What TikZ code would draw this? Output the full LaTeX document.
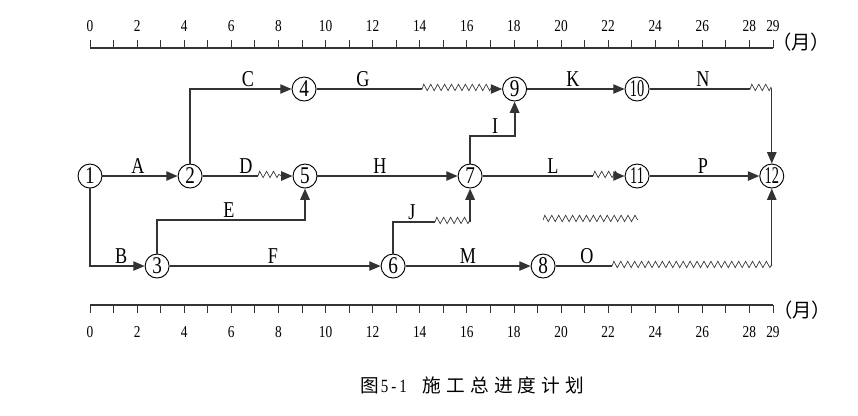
\documentclass[tikz,border=0pt]{standalone}
\usepackage{fontspec}
\usepackage{tikz}
\usetikzlibrary{arrows.meta,positioning,calc,decorations.pathmorphing}
\newfontfamily\latinc[FakeStretch=0.8]{Liberation Serif}
\newfontfamily\latincc[FakeStretch=0.6]{Liberation Serif}
\newfontfamily\cjk{Noto Sans CJK SC}
\newfontfamily\cjksp[LetterSpace=27]{Noto Sans CJK SC}
\definecolor{lineblack}{HTML}{333333}

\begin{document}
\begin{tikzpicture}[x=17.66pt,y=-0.75pt,
    ev/.style={draw,circle,line width=0.7pt,minimum size=18pt,inner sep=0pt,font=\latinc\fontsize{18}{18}\selectfont},
    evw/.style={ev,font=\latincc\fontsize{18}{18}\selectfont},
    act/.style={draw=lineblack,line width=1pt},
    bold/.style={act,line width=1.5pt},
    arr/.style={-{Triangle[length=8.5pt,width=7pt]}},
    wav/.style={draw=lineblack,line width=0.5pt,decorate,decoration={zigzag,segment length=5.2pt,amplitude=2.4pt,raise=1.2pt}},
    lbl/.style={anchor=south,inner sep=0pt,font=\latinc\fontsize{17}{17}\selectfont},
    num/.style={inner sep=0pt,font=\latinc\fontsize{12.5}{13}\selectfont},
    unit/.style={font=\cjk\fontsize{14.5}{15}\selectfont},
    tick/.style={draw=lineblack,line width=0.6pt}]
    \useasboundingbox (-3.8217,0) rectangle (32.6115,415);
    % time scales
    \draw[act] (0,48) -- (29,48);
    \draw[act,line width=1.3pt] (0,305) -- (29,305);
    \foreach \m in {0,...,29} {\draw[tick] (\m,48) -- (\m,40); \draw[tick] (\m,305) -- (\m,313);}
    \foreach \m in {0,2,...,28} {\node[num] at (\m,26) {\m}; \node[num] at (\m,332) {\m};}
    \node[num] at (29,26) {29};
    \node[num] at (29,332) {29};
    \node[unit] (mtop) at (30.2,42) {（月）};
    \node[unit] (mbot) at (30.24,310) {（月）};
    % events
    \node[ev] (n1) at (0,176) {1};
    \node[ev] (n2) at (4.25,176) {2};
    \node[ev] (n3) at (2.85,266) {3};
    \node[ev] (n4) at (9.09,89) {4};
    \node[ev] (n5) at (9.13,176) {5};
    \node[ev] (n6) at (12.87,266) {6};
    \node[ev] (n7) at (16.14,176) {7};
    \node[ev] (n8) at (19.24,266) {8};
    \node[ev] (n9) at (18.03,89) {9};
    \node[evw] (n10) at (23.23,89) {10};
    \node[evw] (n11) at (23.23,176) {11};
    \node[evw] (n12) at (28.95,176) {12};
    % free float ends
    \coordinate (dw) at (7.13,176); \coordinate (dwe) at (8.15,176);
    \coordinate (gw) at (14.1,89); \coordinate (gwe) at (17.1,89);
    \coordinate (lw) at (21.36,176); \coordinate (lwe) at (22.45,176);
    \coordinate (nw) at (28.03,89); \coordinate (nc) at (n12 |- nw);
    \coordinate (ow) at (22.17,266); \coordinate (oc) at (n12 |- ow);
    \coordinate (jw) at (14.65,222); \coordinate (je) at (n7 |- jw);
    \coordinate (ec) at (n5 |- 0,220);
    \coordinate (ic) at (n9 |- 0,136);
    \coordinate (fw) at (19.24,220); \coordinate (fwe) at (23.27,220);
    % activities
    \foreach \a/\b in {n1/n2,n3/n6,n5/n7,n6/n8,n9/n10,n11/n12} {\draw[act,arr] (\a) -- (\b);}
    \draw[act,arr] (n1) |- (n3);
    \draw[act,arr] (n2) |- (n4);
    \draw[bold,arr] (n3) |- (ec) -- (n5);
    \draw[bold,arr] (n7) |- (ic) -- (n9);
    \draw[bold] (n6) |- (jw);
    \draw[wav] (jw) -- (je);
    \draw[bold,arr] (je) -- (n7);
    \foreach \a/\p/\q/\b in {n2/dw/dwe/n5,n4/gw/gwe/n9,n7/lw/lwe/n11,n10/nw/nc/n12,n8/ow/oc/n12}
      {\draw[act] (\a) -- (\p); \draw[wav] (\p) -- (\q); \draw[act,arr] (\q) -- (\b);}
    \draw[wav] (fw) -- (fwe);
    % labels
    \foreach \t/\x/\y in {A/2.04/176,B/1.32/266,C/6.71/89,D/6.62/176,E/5.9/220,F/7.77/266,G/11.59/89,H/12.31/176,
      I/17.2/136,J/13.67/222,K/20.51/89,L/19.66/176,M/16.05/266,N/26.03/89,O/21.1/266,P/26.03/176}
      {\node[lbl] at (\x,\y-2) {\t};}
    \node[font=\fontsize{14}{14}\selectfont] (cap) at (16.22,385) {{\cjk 图}\hspace{1.5pt}{\latinc 5\,-\,1}\hspace{12pt}{\cjksp 施工总进度计划}};
\end{tikzpicture}
\end{document}
